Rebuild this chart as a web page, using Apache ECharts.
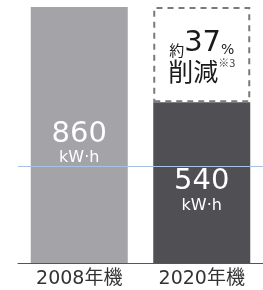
<!DOCTYPE html>
<html>
<head>
<meta charset="utf-8">
<script src="https://cdn.jsdelivr.net/npm/echarts@6/dist/echarts.min.js"></script>
<style>
  html, body { margin: 0; padding: 0; background: #fff; }
  #chart { width: 263px; height: 290px; }
</style>
</head>
<body>
<div id="chart"></div>
<script>
// 年度ごとの消費電力量
const categories = ["2008年機", "2020年機"];
const usage = [860, 540];
const reduction = [null, 320]; // 860 - 540
const barColors = ["#a3a3a8", "#504f53"];
const guideValue = 326;

const chart = echarts.init(document.getElementById("chart"));
const option = {
  animation: false,
  grid: { left: 18, right: -2, top: 7, bottom: 27 },
  xAxis: {
    type: "category",
    data: categories,
    axisTick: { show: false },
    axisLine: { lineStyle: { color: "#555", width: 1 } },
    axisLabel: {
      color: "#333",
      fontSize: 19,
      margin: 7,
      fontFamily: "'DejaVu Sans', 'Noto Sans CJK JP', sans-serif",
    },
  },
  yAxis: {
    type: "value",
    min: 0,
    max: 860,
    show: false,
    splitLine: { show: false },
  },
  series: [
    {
      type: "bar",
      stack: "total",
      barWidth: 97,
      data: usage.map((v, i) => ({ value: v, itemStyle: { color: barColors[i] } })),
      label: {
        show: true,
        position: "inside",
        offset: [0, 9],
        formatter: (p) => "{n|" + p.value + "}\n{u|kW·h}",
        rich: {
          n: { color: "#fff", fontSize: 29, fontFamily: "'DejaVu Sans', sans-serif", lineHeight: 28 },
          u: { color: "#fff", fontSize: 16, fontFamily: "'DejaVu Sans', sans-serif", lineHeight: 20 },
        },
      },
      markLine: {
        silent: true,
        symbol: "none",
        label: { show: false },
        lineStyle: { color: "#a9c0e6", width: 1, type: "solid" },
        data: [{ yAxis: guideValue }],
      },
    },
    {
      type: "bar",
      stack: "total",
      barWidth: 97,
      data: reduction,
      itemStyle: {
        color: "rgba(255,255,255,0)",
        borderColor: "#7a7a7a",
        borderWidth: 2,
        borderType: [6, 5],
      },
      label: {
        show: true,
        position: "inside",
        offset: [0, 3],
        formatter: (p) =>
          p.value ? "{a|約}{b|37}{c|%}\n{d|削減}{e|※3}" : "",
        rich: {
          a: { fontSize: 15, color: "#1a1a1a", fontFamily: "'Noto Sans CJK JP', sans-serif", verticalAlign: "bottom", lineHeight: 20 },
          b: { fontSize: 29, color: "#1a1a1a", fontFamily: "'DejaVu Sans', sans-serif", lineHeight: 28 },
          c: { fontSize: 14, color: "#1a1a1a", fontFamily: "'DejaVu Sans', sans-serif", verticalAlign: "bottom", lineHeight: 18 },
          d: { fontSize: 25, color: "#1a1a1a", fontFamily: "'Noto Sans CJK JP', sans-serif", lineHeight: 28 },
          e: { fontSize: 11, color: "#444", fontFamily: "'Noto Sans CJK JP', sans-serif", verticalAlign: "top", lineHeight: 22 },
        },
      },
    },
  ],
};
chart.setOption(option);
</script>
</body>
</html>
